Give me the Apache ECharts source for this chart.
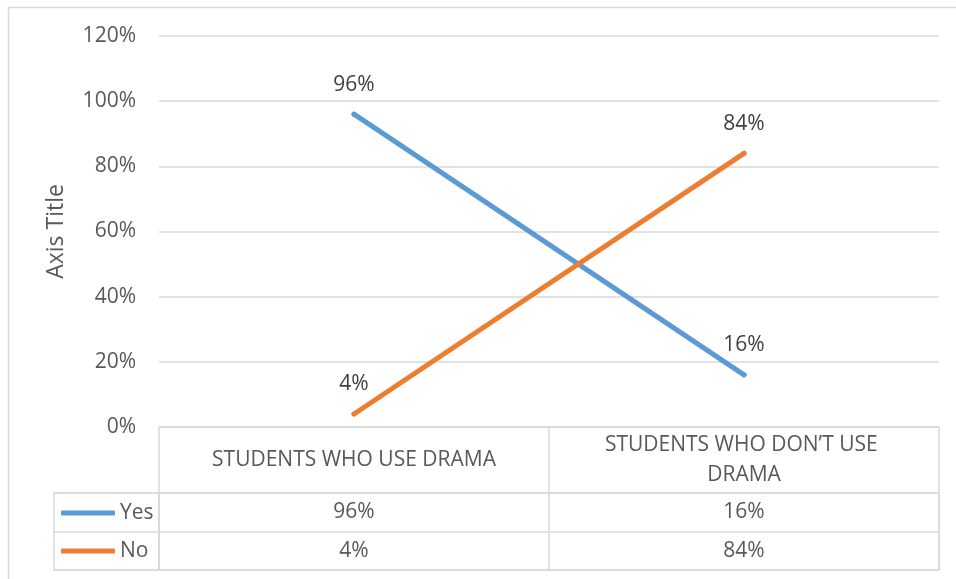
<!DOCTYPE html>
<html>
<head>
<meta charset="utf-8">
<script src="https://cdn.jsdelivr.net/npm/echarts@6/dist/echarts.min.js"></script>
<style>
  html, body { margin: 0; padding: 0; background: #ffffff; }
  #chart { width: 956px; height: 579px; }
</style>
</head>
<body>
<div id="chart"></div>
<script>
// Survey answers per group of students
var categories = ['STUDENTS WHO USE DRAMA', 'STUDENTS WHO DON\u2019T USE DRAMA'];
var seriesNames = ['Yes', 'No'];
var yesValues = [0.96, 0.16];
var noValues = [0.04, 0.84];
var yTicks = [0, 0.2, 0.4, 0.6, 0.8, 1.0, 1.2];

var FONT = 'Open Sans';
var GRID_LINE = '#D9D9D9';
var AXIS_TEXT = '#595959';
var LABEL_TEXT = '#404040';
var COLORS = ['#5B9BD5', '#ED7D31'];

function pct(v) { return Math.round(v * 100) + '%'; }

// cells of the data table under the plot: [column, row, value]
var tableCells = [];
[yesValues, noValues].forEach(function (vals, row) {
  vals.forEach(function (v, col) { tableCells.push([col, row, v]); });
});

function lineSeries(idx, values) {
  return {
    name: seriesNames[idx],
    type: 'line',
    xAxisIndex: 0, yAxisIndex: 0,
    data: values,
    symbol: 'circle',
    symbolSize: 5,
    showSymbol: true,
    itemStyle: { color: COLORS[idx], borderWidth: 0 },
    lineStyle: { width: 5, cap: 'round', color: COLORS[idx] },
    label: {
      show: true, position: 'top', distance: 15,
      formatter: function (p) { return pct(p.value); },
      fontFamily: FONT, fontSize: 21, lineHeight: 24, color: LABEL_TEXT
    }
  };
}

var chart = echarts.init(document.getElementById('chart'), null, { renderer: 'canvas' });

chart.setOption({
  animation: false,
  color: COLORS,
  textStyle: { fontFamily: FONT },
  graphic: [{
    type: 'rect',
    shape: { x: 8.5, y: 7.5, width: 1000, height: 1000 },
    style: { fill: 'none', stroke: GRID_LINE, lineWidth: 1.5 },
    silent: true, z: -10
  }],
  legend: {
    data: seriesNames,
    orient: 'vertical',
    left: 56,
    top: 496,
    icon: 'roundRect',
    itemWidth: 54,
    itemHeight: 5,
    itemGap: 14,
    selectedMode: false,
    textStyle: { fontFamily: FONT, fontSize: 21, color: AXIS_TEXT, lineHeight: 24 }
  },
  grid: [
    { left: 159, right: 17, top: 36, bottom: 152 },
    { left: 159, right: 17, top: 493, bottom: 9, show: true, borderColor: GRID_LINE, borderWidth: 1.5 },
    { left: 54, width: 105, top: 493, bottom: 9, show: true, borderColor: GRID_LINE, borderWidth: 1.5 }
  ],
  xAxis: [
    {
      gridIndex: 0,
      type: 'category',
      data: categories,
      boundaryGap: true,
      axisLine: { show: true, lineStyle: { color: GRID_LINE, width: 1.5 } },
      axisTick: { show: true, length: 66, interval: 0, lineStyle: { color: GRID_LINE, width: 1.5 } },
      axisLabel: {
        interval: 0,
        margin: 33,
        verticalAlign: 'middle',
        fontFamily: FONT,
        fontSize: 21,
        lineHeight: 30,
        color: AXIS_TEXT,
        width: 310,
        overflow: 'break'
      },
      splitLine: { show: false }
    },
    {
      gridIndex: 1,
      type: 'category',
      data: categories,
      boundaryGap: true,
      axisLine: { show: false },
      axisTick: { show: false },
      axisLabel: { show: false },
      splitLine: { show: true, interval: 0, lineStyle: { color: GRID_LINE, width: 1.5 } }
    },
    {
      gridIndex: 2,
      type: 'value',
      show: false
    }
  ],
  yAxis: [
    {
      gridIndex: 0,
      type: 'value',
      min: yTicks[0],
      max: yTicks[yTicks.length - 1],
      interval: yTicks[1] - yTicks[0],
      name: 'Axis Title',
      nameLocation: 'middle',
      nameRotate: 90,
      nameGap: 91,
      nameTextStyle: { fontFamily: FONT, fontSize: 23, color: AXIS_TEXT },
      axisLine: { show: false },
      axisTick: { show: false },
      axisLabel: { formatter: pct, margin: 23, fontFamily: FONT, fontSize: 21, color: AXIS_TEXT },
      splitLine: { show: true, lineStyle: { color: GRID_LINE, width: 1.5 } }
    },
    {
      gridIndex: 1,
      type: 'category',
      data: seriesNames,
      inverse: true,
      boundaryGap: true,
      axisLine: { show: false },
      axisTick: { show: false },
      axisLabel: { show: false },
      splitLine: { show: true, interval: 0, lineStyle: { color: GRID_LINE, width: 1.5 } }
    },
    {
      gridIndex: 2,
      type: 'category',
      data: seriesNames,
      inverse: true,
      boundaryGap: true,
      axisLine: { show: false },
      axisTick: { show: false },
      axisLabel: { show: false },
      splitLine: { show: true, interval: 0, lineStyle: { color: GRID_LINE, width: 1.5 } }
    }
  ],
  series: [
    lineSeries(0, yesValues),
    lineSeries(1, noValues),
    {
      name: 'table',
      type: 'scatter',
      xAxisIndex: 1, yAxisIndex: 1,
      data: tableCells,
      symbolSize: 0,
      silent: true,
      itemStyle: { opacity: 1 },
      label: {
        show: true, position: 'inside',
        formatter: function (p) { return pct(p.value[2]); },
        fontFamily: FONT, fontSize: 21, color: AXIS_TEXT
      }
    }
  ]
});
</script>
</body>
</html>
